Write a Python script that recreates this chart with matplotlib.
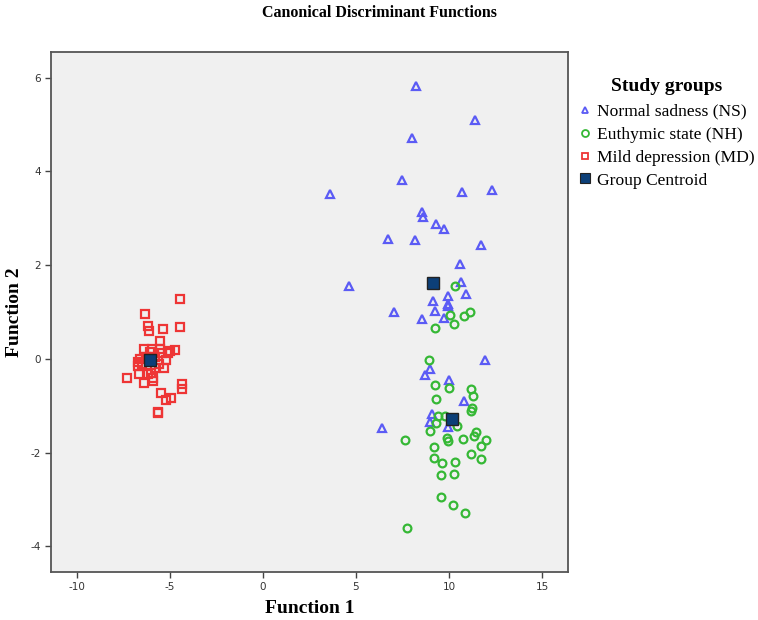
import matplotlib
matplotlib.use("Agg")
import matplotlib.pyplot as plt
from matplotlib.lines import Line2D

plt.rcParams['axes.unicode_minus'] = False

# Normal sadness (NS) - function 1 / function 2 scores
ns_f1 = [8.23, 11.38, 8.01, 7.49, 3.59, 10.72, 12.31, 8.55, 8.59, 9.28, 9.73, 6.70,
         8.19, 11.72, 10.61, 4.64, 10.65, 10.93, 9.12, 9.93, 7.03, 9.23, 9.93, 9.96,
         8.56, 9.73, 11.95, 8.99, 8.73, 10.02, 10.82, 9.09, 8.98, 9.93, 6.40]
ns_f2 = [5.83, 5.10, 4.72, 3.81, 3.51, 3.57, 3.60, 3.13, 3.02, 2.88, 2.77, 2.55,
         2.53, 2.42, 2.03, 1.55, 1.64, 1.39, 1.24, 1.34, 1.00, 1.02, 1.17, 1.12,
         0.86, 0.87, -0.03, -0.21, -0.34, -0.45, -0.91, -1.17, -1.34, -1.46, -1.48]

# Euthymic state (NH)
nh_f1 = [10.32, 10.07, 10.79, 11.11, 10.25, 9.23, 8.92, 9.26, 9.98, 11.18, 11.29,
         9.32, 11.24, 11.18, 9.39, 9.80, 9.32, 10.43, 8.98, 7.63, 9.91, 9.96, 10.74,
         11.47, 11.36, 12.01, 11.74, 9.18, 9.19, 9.64, 10.34, 11.17, 11.70, 9.57,
         10.25, 9.59, 10.20, 10.86, 7.73]
nh_f2 = [1.56, 0.94, 0.92, 1.00, 0.75, 0.65, -0.02, -0.55, -0.63, -0.64, -0.79,
         -0.86, -1.05, -1.12, -1.21, -1.21, -1.38, -1.44, -1.53, -1.74, -1.68, -1.75,
         -1.72, -1.57, -1.64, -1.74, -1.85, -1.88, -2.11, -2.22, -2.20, -2.03, -2.13,
         -2.48, -2.45, -2.95, -3.12, -3.30, -3.61]

# Mild depression (MD)
md_f1 = [-4.48, -6.33, -6.17, -6.15, -5.36, -4.46, -5.54, -6.38, -5.98, -5.54, -5.00,
         -4.73, -5.12, -5.41, -6.70, -6.70, -6.65, -5.81, -5.34, -5.20, -7.33, -6.40,
         -5.93, -5.93, -6.20, -4.37, -4.35, -5.50, -5.22, -4.93, -5.63, -5.63,
         -6.10, -5.80, -6.50, -6.30, -5.60, -6.00, -6.60]
md_f2 = [1.27, 0.95, 0.71, 0.60, 0.63, 0.68, 0.38, 0.21, 0.21, 0.21, 0.16,
         0.19, 0.12, 0.12, -0.07, -0.16, -0.33, -0.20, -0.19, -0.02, -0.40, -0.52,
         -0.48, -0.40, -0.33, -0.53, -0.65, -0.73, -0.88, -0.84, -1.16, -1.13,
         0.15, 0.05, -0.10, 0.05, -0.10, -0.30, 0.00]

# group centroids: NS, NH, MD
cen_f1 = [9.14, 10.18, -6.08]
cen_f2 = [1.62, -1.28, -0.02]

group_labels = ['Normal sadness (NS)', 'Euthymic state (NH)',
                'Mild depression (MD)', 'Group Centroid']

c_ns = '#5b5bf5'
c_nh = '#35b835'
c_md = '#ee3535'
c_cen = '#0c3f78'

serif = 'Liberation Serif'

fig = plt.figure(figsize=(7.58, 6.2), dpi=100)
ax = fig.add_axes([51 / 758, 48 / 620, 517 / 758, 520 / 620])
ax.set_facecolor('#f0f0f0')

ax.plot(ns_f1, ns_f2, ls='none', marker='^', ms=5.8, mfc='none', mec=c_ns, mew=1.6)
ax.plot(nh_f1, nh_f2, ls='none', marker='o', ms=5.6, mfc='none', mec=c_nh, mew=1.6)
ax.plot(md_f1, md_f2, ls='none', marker='s', ms=5.8, mfc='none', mec=c_md, mew=1.6)
ax.plot(cen_f1, cen_f2, ls='none', marker='s', ms=8, mfc=c_cen, mec='#222222', mew=1.0)

ax.set_xlim(-11.4, 16.4)
ax.set_ylim(-4.55, 6.55)
ax.set_xticks([-10, -5, 0, 5, 10, 15])
ax.set_yticks([-4, -2, 0, 2, 4, 6])
ax.tick_params(direction='out', length=4, width=1, colors='#444444',
               labelsize=7.5, labelcolor='#333333', pad=3)
for sp in ax.spines.values():
    sp.set_color('#555555')
    sp.set_linewidth(1.3)

ax.set_xlabel('Function 1', family=serif, weight='bold', fontsize=14, labelpad=6)
ax.set_ylabel('Function 2', family=serif, weight='bold', fontsize=14, labelpad=6)
fig.text(0.5, 1 - 13 / 620, 'Canonical Discriminant Functions', family=serif,
         weight='bold', fontsize=11.5, ha='center', va='center')

handles = [
    Line2D([], [], ls='none', marker='^', ms=5, mfc='none', mec=c_ns, mew=1.3),
    Line2D([], [], ls='none', marker='o', ms=5, mfc='none', mec=c_nh, mew=1.3),
    Line2D([], [], ls='none', marker='s', ms=5, mfc='none', mec=c_md, mew=1.3),
    Line2D([], [], ls='none', marker='s', ms=6.5, mfc=c_cen, mec='#222222', mew=0.8),
]
leg = fig.legend(handles, group_labels, loc='upper left',
                 bbox_to_anchor=(567 / 758, 1 - 66 / 620), frameon=False,
                 title='Study groups', prop={'family': serif, 'size': 12.6},
                 title_fontproperties={'family': serif, 'weight': 'bold', 'size': 14},
                 handlelength=0.7, handletextpad=0.3, labelspacing=0.38,
                 borderpad=0.2)
leg._legend_box.sep = 6

fig.savefig('out.png', dpi=100)
